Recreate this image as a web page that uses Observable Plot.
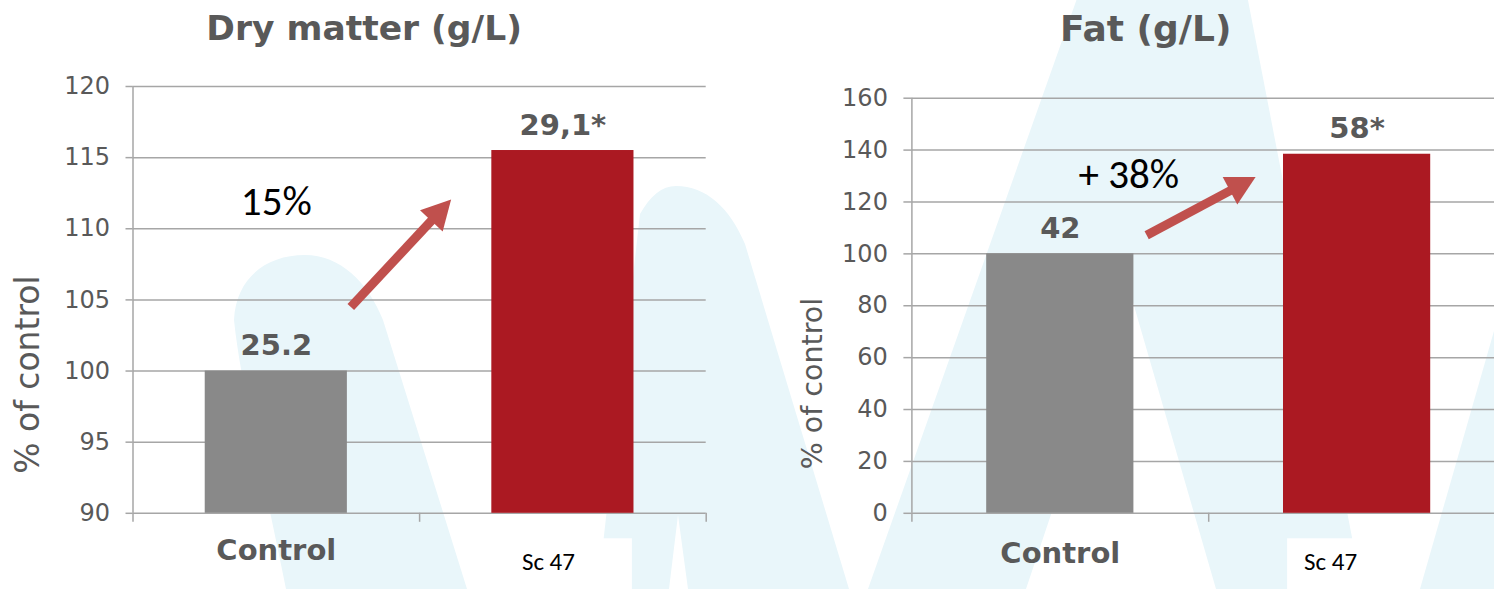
<!DOCTYPE html>
<html>
<head>
<meta charset="utf-8">
<script src="https://cdn.jsdelivr.net/npm/d3@7"></script>
<script src="https://cdn.jsdelivr.net/npm/@observablehq/plot@0.6"></script>
<style>
  html, body { margin: 0; padding: 0; background: #ffffff; }
  #wrap { position: relative; width: 1494px; height: 589px; overflow: hidden; background: #ffffff; }
  #bg { position: absolute; left: 0; top: 0; }
  .panel { position: absolute; top: 0; height: 589px; }
  #p1 { left: 0px; width: 750px; }
  #p2 { left: 750px; width: 755px; }
  .panel svg { overflow: visible; max-width: none !important; }
</style>
</head>
<body>
<div id="wrap">
  <svg id="bg" width="1494" height="589" viewBox="0 0 1494 589">
    <g fill="#e9f6fa">
      <path d="M286,589 C262,470 240,380 234,320 C236,278 266,255 305,255 C340,255 368,282 383,320 L467,589 Z"/>
      <path d="M598,589 L640,214 C650,196 662,186 676,186 C706,186 730,208 745,244 L849,589 L688,589 L678,515 L669,589 Z"/>
      <path d="M868,589 L1080,-10 L1246,-10 L1362,589 L1216,589 L1128,285 L1026,589 Z"/>
      <path d="M1420,589 L1500,310 L1500,589 Z"/>
    </g>
  </svg>
  <div class="panel" id="p1"></div>
  <div class="panel" id="p2"></div>
</div>
<script>
// ---- data ----
const categories = ["Control", "Sc 47"];
const categoryIndex = [0, 1];

const dryTitle = "Dry matter (g/L)";
const dryValues = [100, 115.5];          // % of control
const dryLabels = ["25.2", "29,1*"];     // g/L
const dryTicks = [90, 95, 100, 105, 110, 115, 120];
const dryNote = ["15%"];
const dryNoteX = [0];
const dryNoteY = [111.0];
const dryArrowFrom = [0.26, 104.5];
const dryArrowTo = [0.61, 112.05];
const dryAxisLabelAt = [99.75];

const fatTitle = "Fat (g/L)";
const fatValues = [100, 138.4];
const fatLabels = ["42", "58*"];
const fatTicks = [0, 20, 40, 60, 80, 100, 120, 140, 160];
const fatNote = ["+ 38%"];
const fatNoteX = [0.231];
const fatNoteY = [125.2];
const fatArrowFrom = [0.291, 107.2];
const fatArrowTo = [0.658, 129.6];
const fatAxisLabelAt = [50];

const yLabel = "% of control";
const xBoundaries = [-0.5, 0.5, 1.5];

// ---- styles ----
const GRID = "#a6a6a6";
const TXT = "#595959";
const BAR_COLORS = ["#898989", "#ab1922"];
const ARROW = "#c0504d";
const SANS = "'DejaVu Sans', Verdana, sans-serif";
const NOTE_FONT = "Carlito, Lato, 'Open Sans', sans-serif";
const NS = "http://www.w3.org/2000/svg";

function arrowMark(from, to, {color, shaft, headLen, headW}) {
  const data = [{x1: from[0], y1: from[1], x2: to[0], y2: to[1]}];
  return Plot.link(data, {
    x1: "x1", y1: "y1", x2: "x2", y2: "y2",
    stroke: color, strokeWidth: shaft,
    render(index, scales, values, dims, ctx, next) {
      const X1 = values.x1, Y1 = values.y1, X2 = values.x2, Y2 = values.y2;
      const nx2 = Float64Array.from(X2), ny2 = Float64Array.from(Y2);
      const heads = [];
      for (const i of index) {
        const dx = X2[i] - X1[i], dy = Y2[i] - Y1[i];
        const L = Math.hypot(dx, dy), ux = dx / L, uy = dy / L;
        nx2[i] = X2[i] - ux * headLen * 0.9;
        ny2[i] = Y2[i] - uy * headLen * 0.9;
        const bx = X2[i] - ux * headLen, by = Y2[i] - uy * headLen;
        heads.push(`${X2[i]},${Y2[i]} ${bx - uy * headW / 2},${by + ux * headW / 2} ${bx + uy * headW / 2},${by - ux * headW / 2}`);
      }
      const g = next(index, scales, {...values, x2: nx2, y2: ny2}, dims, ctx);
      for (const p of heads) {
        const poly = document.createElementNS(NS, "polygon");
        poly.setAttribute("points", p);
        poly.setAttribute("fill", color);
        poly.setAttribute("stroke", "none");
        g.appendChild(poly);
      }
      return g;
    }
  });
}

function panel(cfg) {
  const rows = categoryIndex.map((i) => ({i, c: categories[i], v: cfg.values[i], label: cfg.labels[i]}));
  const notes = cfg.note.map((t, k) => ({t, x: cfg.noteX[k], y: cfg.noteY[k]}));
  const y0 = cfg.domain[0];
  return Plot.plot({
    width: cfg.width,
    height: 589,
    marginLeft: cfg.marginLeft,
    marginRight: cfg.marginRight,
    marginTop: cfg.marginTop,
    marginBottom: cfg.marginBottom,
    style: {background: "transparent", fontFamily: SANS, overflow: "visible"},
    x: {domain: [-0.5, 1.5], axis: null},
    y: {domain: cfg.domain, axis: null},
    marks: [
      Plot.gridY(cfg.ticks, {stroke: GRID, strokeOpacity: 1, strokeWidth: 1.5}),
      Plot.axisY(cfg.ticks, {
        tickSize: cfg.tickSize, tickPadding: 16, fontSize: 24, fill: TXT,
        stroke: GRID, strokeWidth: 1.5, label: null, tickFormat: (d) => String(d)
      }),
      Plot.ruleX([-0.5], {y1: () => cfg.domain[0], y2: () => cfg.domain[1], stroke: GRID, strokeWidth: 1.5}),
      Plot.axisX(xBoundaries, {tickSize: 9, stroke: GRID, strokeWidth: 1.5, tickFormat: () => "", label: null}),
      Plot.rect(rows, {
        x1: (d) => d.i - 0.248, x2: (d) => d.i + 0.248,
        y1: () => y0, y2: "v",
        fill: (d) => BAR_COLORS[d.i]
      }),
      Plot.text(rows, {
        x: "i", y: "v", text: "label", dy: -16, lineAnchor: "bottom",
        fontSize: 29, fontWeight: "bold", fill: TXT
      }),
      // category labels
      Plot.text(rows, {
        filter: (d) => d.i === 0,
        x: "i", y: () => y0, text: "c", dy: cfg.ctrlDy, lineAnchor: "bottom",
        fontSize: 29, fontWeight: "bold", fill: TXT
      }),
      Plot.text(rows, {
        filter: (d) => d.i === 1,
        x: "i", y: () => y0, text: "c", dx: cfg.scDx, dy: 57, lineAnchor: "bottom", textAnchor: "start",
        fontSize: 25, fontFamily: NOTE_FONT, fill: "#000",
        render(index, scales, values, dims, ctx, next) {
          const g = next(index, scales, values, dims, ctx);
          for (const i of index) {
            const r = document.createElementNS(NS, "rect");
            r.setAttribute("x", values.x[i] - 17);
            r.setAttribute("y", values.y[i] - 32);
            r.setAttribute("width", 127);
            r.setAttribute("height", 70);
            r.setAttribute("fill", "#ffffff");
            r.setAttribute("stroke", "none");
            g.insertBefore(r, g.firstChild);
          }
          return g;
        }
      }),
      // title
      Plot.text([cfg.title], {
        frameAnchor: "top", dx: cfg.titleDx, dy: cfg.titleDy, lineAnchor: "bottom",
        fontSize: cfg.titleSize, fontWeight: "bold", fill: TXT
      }),
      // y label
      Plot.text([yLabel], {
        frameAnchor: "left", y: () => cfg.axisLabelAt[0], dx: cfg.yLabelDx, rotate: -90,
        textAnchor: "middle", lineAnchor: "middle",
        fontSize: cfg.yLabelSize, fill: TXT
      }),
      // annotation
      Plot.text(notes, {
        x: "x", y: "y", text: "t", lineAnchor: "bottom",
        fontSize: cfg.noteSize, fontFamily: NOTE_FONT, fill: "#000"
      }),
      arrowMark(cfg.arrowFrom, cfg.arrowTo, {color: ARROW, shaft: 9, headLen: 29, headW: 31})
    ]
  });
}

document.getElementById("p1").appendChild(panel({
  title: dryTitle, values: dryValues, labels: dryLabels, ticks: dryTicks, domain: [90, 120],
  note: dryNote, noteX: dryNoteX, noteY: dryNoteY, arrowFrom: dryArrowFrom, arrowTo: dryArrowTo,
  axisLabelAt: dryAxisLabelAt,
  width: 750, marginLeft: 132.5, marginRight: 44.3, marginTop: 86, marginBottom: 76.2,
  tickSize: 7, ctrlDy: 47, scDx: -41, titleDx: -55.5, titleDy: -46.5, titleSize: 34.5,
  yLabelDx: -105, yLabelSize: 33, noteSize: 41
}));

document.getElementById("p2").appendChild(panel({
  title: fatTitle, values: fatValues, labels: fatLabels, ticks: fatTicks, domain: [0, 160],
  note: fatNote, noteX: fatNoteX, noteY: fatNoteY, arrowFrom: fatArrowFrom, arrowTo: fatArrowTo,
  axisLabelAt: fatAxisLabelAt,
  width: 755, marginLeft: 161.4, marginRight: 0, marginTop: 97.7, marginBottom: 76.2,
  tickSize: 8, ctrlDy: 50, scDx: -53, titleDx: -63, titleDy: -57, titleSize: 36,
  yLabelDx: -99.4, yLabelSize: 28.5, noteSize: 41
}));
</script>
</body>
</html>
